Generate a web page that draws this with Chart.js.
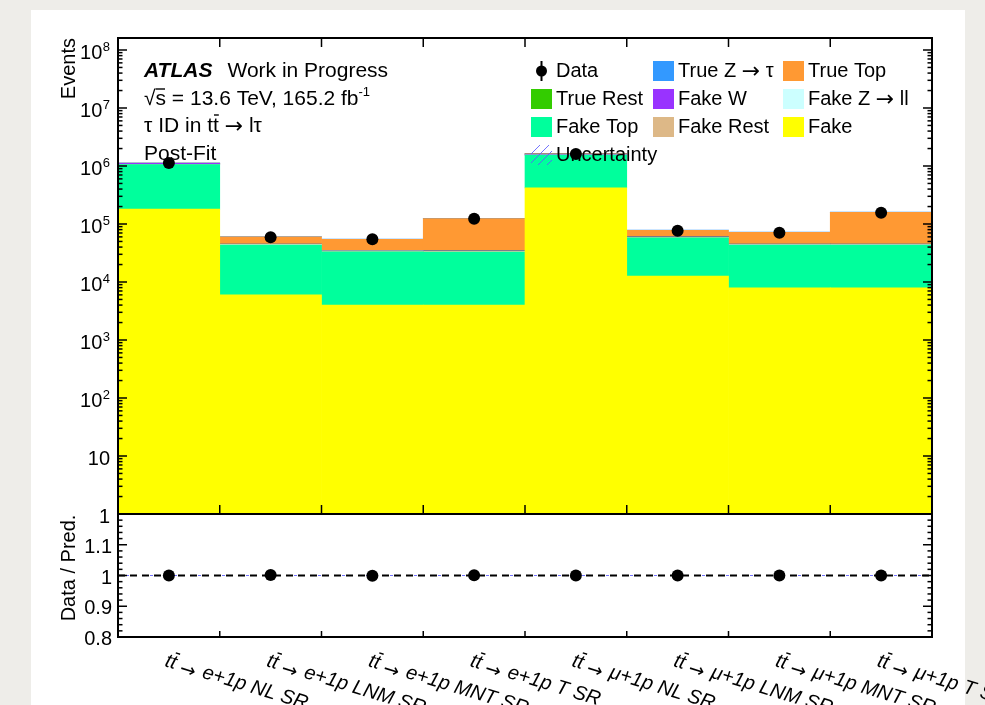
<!DOCTYPE html>
<html>
<head>
<meta charset="utf-8">
<title>tau ID post-fit yields</title>
<script src="https://cdn.jsdelivr.net/npm/chart.js@4.4.1/dist/chart.umd.min.js"></script>
<style>
  html, body { margin: 0; padding: 0; width: 985px; height: 705px; overflow: hidden; background: #eeede9; }
  #card { position: absolute; left: 31px; top: 10px; width: 934px; height: 700px; background: #ffffff; }
  canvas { position: absolute; left: 0; top: 0; }
</style>
</head>
<body>
<div id="card"></div>
<canvas id="main" width="985" height="705"></canvas>
<canvas id="ratio" width="985" height="705"></canvas>
<script>
// ---- analysis regions (x categories) ----
const regionChannel = ['e+1p', 'e+1p', 'e+1p', 'e+1p', 'μ+1p', 'μ+1p', 'μ+1p', 'μ+1p'];
const regionName = ['NL SR', 'LNM SR', 'MNT SR', 'T SR', 'NL SR', 'LNM SR', 'MNT SR', 'T SR'];
const regions = regionChannel.map((c, i) => c + ' ' + regionName[i]);

// ---- post-fit yields per region, stacked from bottom to top ----
const fake      = [180000, 6000, 4000, 4000, 420000, 12700, 7900, 7900];
const fakeTop   = [880000, 37200, 29200, 28900, 1120000, 45200, 35200, 35200];
const fakeRest  = [4000, 500, 400, 400, 5000, 500, 500, 500];
const fakeZll   = [3000, 700, 600, 400, 4000, 600, 600, 500];
const fakeW     = [40000, 500, 400, 900, 55000, 1100, 700, 800];
const trueRest  = [2000, 300, 300, 300, 3000, 300, 300, 300];
const trueTop   = [12000, 14600, 19700, 88600, 35000, 17600, 26900, 114000];
const trueZtau  = [8000, 600, 500, 1500, 15000, 800, 700, 1800];

// ---- observed data and data / prediction ----
const dataEvents = [1130000, 59000, 54500, 123000, 1610000, 76700, 70800, 157000];
const dataRatio  = [1.000, 1.002, 0.999, 1.001, 1.000, 1.000, 1.000, 1.000];

// ---- axis ticks ----
const yTickValues = [1, 10, 1e2, 1e3, 1e4, 1e5, 1e6, 1e7, 1e8];
const yTickLabels = ['1', '10', '10^2', '10^3', '10^4', '10^5', '10^6', '10^7', '10^8'];
const ratioTickValues = [0.8, 0.9, 1.0, 1.1];
const ratioTickLabels = ['0.8', '0.9', '1', '1.1'];

// ---- legend rows ----
const legendRows = [
  ['Data', 'True Z → τ', 'True Top'],
  ['True Rest', 'Fake W', 'Fake Z → ll'],
  ['Fake Top', 'Fake Rest', 'Fake'],
  ['Uncertainty']
];

// ---- styling ----
const FONT = '"Liberation Sans", Arial, Helvetica, sans-serif';
const ARROW_FONT = '"DejaVu Sans", sans-serif';
const colors = {
  'Fake': '#ffff00', 'Fake Top': '#00ff9c', 'Fake Rest': '#ddb887', 'Fake Z → ll': '#ccffff',
  'Fake W': '#9933ff', 'True Rest': '#33cc00', 'True Top': '#ff9933', 'True Z → τ': '#3399ff'
};
const stackSeries = [
  ['Fake', fake], ['Fake Top', fakeTop], ['Fake Rest', fakeRest], ['Fake Z → ll', fakeZll],
  ['Fake W', fakeW], ['True Rest', trueRest], ['True Top', trueTop], ['True Z → τ', trueZtau]
];
const FRAME = { left: 118, right: 932, top: 38, split: 514, bottom: 637 };
const W = 985, H = 705;

function line(ctx, x1, y1, x2, y2) { ctx.beginPath(); ctx.moveTo(x1, y1); ctx.lineTo(x2, y2); ctx.stroke(); }

// draws a run of text pieces left to right; returns the end x
function textRun(ctx, parts, x, y, size) {
  for (const p of parts) {
    ctx.font = (p.style || '') + ' ' + (p.size || size || 20) + 'px ' + (p.family || FONT);
    const w = ctx.measureText(p.t).width;
    ctx.fillText(p.t, x, y + (p.dy || 0));
    if (p.bar !== undefined) {
      ctx.save();
      ctx.lineWidth = 1.4;
      line(ctx, x + 1 + (p.barShift || 0), y - p.bar, x + w + (p.barShift || 0), y - p.bar);
      ctx.restore();
    }
    x += w + (p.gap || 0);
  }
  return x;
}

// splits a label so arrows use a font with a full-size arrow glyph
function arrowParts(label) {
  const out = [];
  label.split('→').forEach((piece, i) => {
    if (i > 0) out.push({ t: '→', family: ARROW_FONT, size: 22, dy: 1 });
    if (piece) out.push({ t: piece });
  });
  return out;
}

function drawInfo(ctx) {
  ctx.save();
  ctx.fillStyle = '#000'; ctx.strokeStyle = '#000';
  ctx.textAlign = 'left'; ctx.textBaseline = 'alphabetic';
  textRun(ctx, [{ t: 'ATLAS', style: 'italic bold', gap: 15 }, { t: 'Work in Progress' }], 144, 77, 21);
  textRun(ctx, [{ t: '√' }, { t: 's', bar: 16, barShift: -1 }, { t: ' = 13.6 TeV, 165.2 fb' }, { t: '-1', size: 13, dy: -9 }], 144, 105, 21);
  textRun(ctx, [{ t: 'τ ID in t' }, { t: 't', bar: 17 }, { t: ' ' }, { t: '→', family: ARROW_FONT, size: 22, dy: 1 }, { t: ' lτ' }], 144, 132, 21);
  textRun(ctx, [{ t: 'Post-Fit' }], 144, 160, 21);
  ctx.restore();
}

function drawLegend(ctx) {
  const boxX = [531, 653, 783];
  const textX = [556, 678, 808];
  const base = [77, 105, 133, 161];
  ctx.save();
  ctx.textAlign = 'left'; ctx.textBaseline = 'alphabetic';
  legendRows.forEach((row, r) => {
    row.forEach((label, c) => {
      const cy = base[r] - 6;
      if (label === 'Data') {
        ctx.fillStyle = '#000'; ctx.strokeStyle = '#000'; ctx.lineWidth = 2;
        line(ctx, boxX[c] + 10.5, cy - 10, boxX[c] + 10.5, cy + 10);
        ctx.beginPath(); ctx.arc(boxX[c] + 10.5, cy, 5.5, 0, Math.PI * 2); ctx.fill();
      } else if (label === 'Uncertainty') {
        ctx.strokeStyle = 'rgba(90,90,255,0.85)'; ctx.lineWidth = 1;
        ctx.save(); ctx.beginPath(); ctx.rect(boxX[c], cy - 10, 21, 20); ctx.clip();
        for (let k = -20; k <= 20; k += 9) line(ctx, boxX[c] + k, cy + 10, boxX[c] + k + 20, cy - 10);
        ctx.restore();
      } else {
        ctx.fillStyle = colors[label];
        ctx.fillRect(boxX[c], cy - 10, 21, 20);
      }
      ctx.fillStyle = '#000';
      textRun(ctx, arrowParts(label), textX[c], base[r], 20);
    });
  });
  ctx.restore();
}

function drawYLabel(ctx, label, xRight, y) {
  const m = label.match(/^(\d+)\^(\d+)$/);
  if (m) {
    ctx.font = '13px ' + FONT;
    const ew = ctx.measureText(m[2]).width;
    ctx.fillText(m[2], xRight - ew, y - 8);
    ctx.font = '20px ' + FONT;
    const bw = ctx.measureText(m[1]).width;
    ctx.fillText(m[1], xRight - ew - bw - 0.5, y);
  } else {
    ctx.font = '20px ' + FONT;
    const w = ctx.measureText(label).width;
    ctx.fillText(label, xRight - w, y);
  }
}

const mainAxes = {
  id: 'mainAxes',
  beforeDatasetDraw(chart, args) {
    if (args.meta.type === 'line') { drawInfo(chart.ctx); drawLegend(chart.ctx); }
  },
  afterDraw(chart) {
    const { ctx, chartArea: a, scales: { x, y } } = chart;
    ctx.save();
    ctx.strokeStyle = '#000'; ctx.fillStyle = '#000'; ctx.lineWidth = 1.5;
    // log ticks, inward on both sides
    for (let d = 0; d <= 8; d++) {
      for (let k = 1; k <= 9; k++) {
        const v = k * Math.pow(10, d);
        if (v > y.max) break;
        const py = y.getPixelForValue(v);
        const len = k === 1 ? 9 : 4.5;
        line(ctx, a.left, py, a.left + len, py);
        line(ctx, a.right, py, a.right - len, py);
      }
    }
    // bin edge ticks
    for (let i = 1; i < regions.length; i++) {
      const px = (x.getPixelForValue(i - 1) + x.getPixelForValue(i)) / 2;
      line(ctx, px, a.top, px, a.top + 9);
      line(ctx, px, a.bottom, px, a.bottom - 9);
    }
    ctx.lineWidth = 2;
    ctx.strokeRect(a.left, a.top, a.right - a.left, a.bottom - a.top);
    // tick labels
    ctx.textAlign = 'left'; ctx.textBaseline = 'alphabetic';
    yTickValues.forEach((v, i) => drawYLabel(ctx, yTickLabels[i], 110, y.getPixelForValue(v) + 9));
    // axis title
    ctx.save();
    ctx.translate(75, a.top);
    ctx.rotate(-Math.PI / 2);
    ctx.textAlign = 'right';
    ctx.font = '20px ' + FONT;
    ctx.fillText('Events', 0, 0);
    ctx.restore();
    ctx.restore();
  }
};

const ratioAxes = {
  id: 'ratioAxes',
  beforeDatasetsDraw(chart) {
    const { ctx, chartArea: a, scales: { y } } = chart;
    const py = y.getPixelForValue(1);
    ctx.save();
    ctx.strokeStyle = 'rgba(80,80,255,0.8)'; ctx.lineWidth = 1;
    ctx.setLineDash([3, 5]);
    line(ctx, a.left, py, a.right, py);
    ctx.strokeStyle = '#000'; ctx.lineWidth = 2;
    ctx.setLineDash([7, 5]);
    line(ctx, a.left, py, a.right, py);
    ctx.restore();
  },
  afterDraw(chart) {
    const { ctx, chartArea: a, scales: { x, y } } = chart;
    ctx.save();
    ctx.strokeStyle = '#000'; ctx.fillStyle = '#000'; ctx.lineWidth = 1.5;
    for (let s = 0; s <= 20; s++) {
      const v = 0.8 + s * 0.02;
      const py = y.getPixelForValue(v);
      const len = s % 5 === 0 ? 9 : 4.5;
      line(ctx, a.left, py, a.left + len, py);
      line(ctx, a.right, py, a.right - len, py);
    }
    for (let i = 1; i < regions.length; i++) {
      const px = (x.getPixelForValue(i - 1) + x.getPixelForValue(i)) / 2;
      line(ctx, px, a.bottom, px, a.bottom - 6);
    }
    ctx.lineWidth = 2;
    ctx.strokeRect(a.left, a.top, a.right - a.left, a.bottom - a.top);
    ctx.textAlign = 'left'; ctx.textBaseline = 'alphabetic';
    ratioTickValues.forEach((v, i) => drawYLabel(ctx, ratioTickLabels[i], 112, y.getPixelForValue(v) + 8));
    // y title
    ctx.save();
    ctx.translate(75, 568);
    ctx.rotate(-Math.PI / 2);
    ctx.textAlign = 'center';
    ctx.font = '20px ' + FONT;
    ctx.fillText('Data / Pred.', 0, 0);
    ctx.restore();
    // rotated region labels
    const ang = 17 * Math.PI / 180;
    regions.forEach((r, i) => {
      const px = x.getPixelForValue(i);
      ctx.save();
      ctx.translate(px - 5, a.bottom + 29);
      ctx.rotate(ang);
      ctx.textAlign = 'left';
      textRun(ctx, [
        { t: 't', style: 'italic' },
        { t: 't', style: 'italic', bar: 16, barShift: 1, gap: 5 },
        { t: '→', family: ARROW_FONT, size: 19, dy: 3, gap: 7 },
        { t: regionChannel[i] + ' ' + regionName[i], style: 'italic' }
      ], 0, 0, 20);
      ctx.restore();
    });
    ctx.restore();
  }
};

const barDatasets = stackSeries.map(([label, values]) => ({
  type: 'bar', label, data: values, backgroundColor: colors[label], borderWidth: 0,
  barPercentage: 1, categoryPercentage: 1, stack: 'mc'
}));

new Chart(document.getElementById('main'), {
  type: 'bar',
  data: {
    labels: regions,
    datasets: [...barDatasets, {
      type: 'line', label: 'Data', data: dataEvents, showLine: false, stack: 'data',
      pointRadius: 6, pointHoverRadius: 6, pointBackgroundColor: '#000', pointBorderWidth: 0, order: -1
    }]
  },
  options: {
    responsive: false, animation: false, events: [],
    layout: { padding: { left: FRAME.left, right: W - FRAME.right, top: FRAME.top, bottom: H - FRAME.split } },
    plugins: { legend: { display: false }, tooltip: { enabled: false } },
    scales: {
      x: { display: false, stacked: true, offset: true },
      y: { display: false, type: 'logarithmic', stacked: true, min: 1, max: 1.61e8 }
    }
  },
  plugins: [mainAxes]
});

new Chart(document.getElementById('ratio'), {
  type: 'line',
  data: {
    labels: regions,
    datasets: [{
      label: 'Data / Pred.', data: dataRatio, showLine: false,
      pointRadius: 6, pointHoverRadius: 6, pointBackgroundColor: '#000', pointBorderWidth: 0
    }]
  },
  options: {
    responsive: false, animation: false, events: [],
    layout: { padding: { left: FRAME.left, right: W - FRAME.right, top: FRAME.split, bottom: H - FRAME.bottom } },
    plugins: { legend: { display: false }, tooltip: { enabled: false } },
    scales: {
      x: { display: false, offset: true },
      y: { display: false, min: 0.8, max: 1.2 }
    }
  },
  plugins: [ratioAxes]
});
</script>
</body>
</html>
